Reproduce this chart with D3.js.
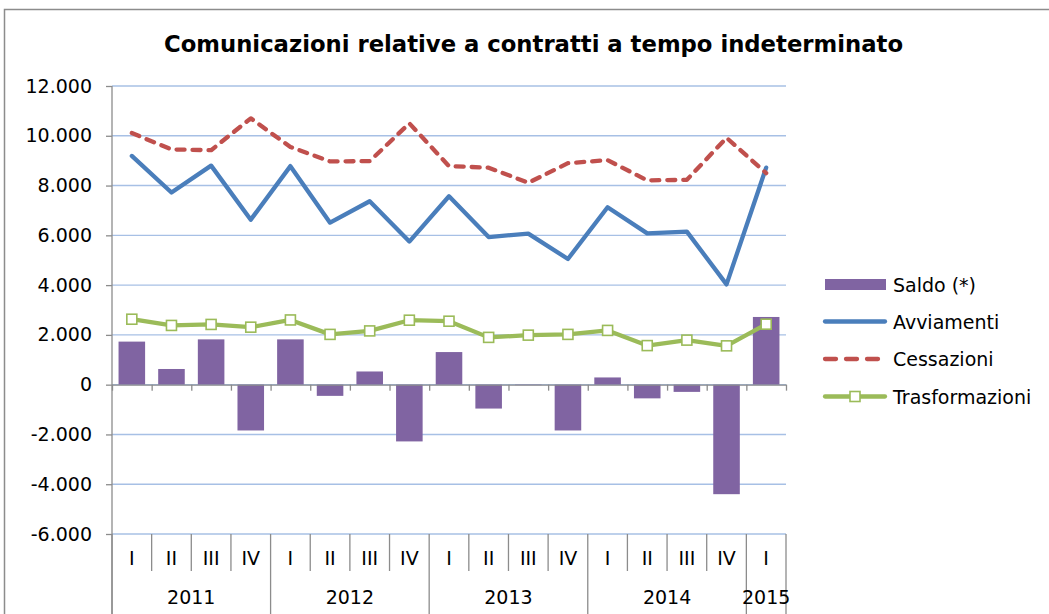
<!DOCTYPE html>
<html>
<head>
<meta charset="utf-8">
<script src="https://cdnjs.cloudflare.com/ajax/libs/d3/7.8.5/d3.min.js"></script>
<style>
    body { margin: 0; background: #fff; }
    svg text { font-family: "DejaVu Sans", Verdana, sans-serif; fill: #000; }
</style>
</head>
<body>
<svg id="chart" width="1049" height="614"></svg>
<script>
// dati
var quarters = ["I", "II", "III", "IV", "I", "II", "III", "IV", "I", "II", "III", "IV", "I", "II", "III", "IV", "I"];
var yearLabels = ["2011", "2012", "2013", "2014", "2015"];
var yearSpans = [4, 4, 4, 4, 1];

var saldo = [1730, 630, 1820, -1840, 1820, -450, 530, -2280, 1310, -960, -20, -1840, 290, -550, -290, -4400, 2720];
var avviamenti = [9190, 7720, 8800, 6630, 8780, 6510, 7370, 5750, 7570, 5930, 6070, 5050, 7130, 6080, 6150, 4030, 8720];
var cessazioni = [10110, 9450, 9420, 10700, 9550, 8970, 8980, 10500, 8780, 8720, 8110, 8900, 9020, 8210, 8230, 9920, 8500];
var trasformazioni = [2630, 2380, 2420, 2310, 2600, 2020, 2160, 2590, 2550, 1900, 1990, 2020, 2180, 1570, 1790, 1560, 2430];

var yTicks = [-6000, -4000, -2000, 0, 2000, 4000, 6000, 8000, 10000, 12000];
var legendLabels = ["Saldo (*)", "Avviamenti", "Cessazioni", "Trasformazioni"];

(function () {
    'use strict';

    var svg = d3.select("#chart");
    var left = 112, right = 786, top = 86, bottom = 534;
    var fontSize = 19;

    var colors = {
        saldo: "#8064a2",
        avv: "#4a7ebb",
        ces: "#c0504d",
        tra: "#9bbb59",
        grid: "#a7c0e5",
        axis: "#8c8c8c"
    };

    var it = d3.formatLocale({ decimal: ",", thousands: ".", grouping: [3], currency: ["€", ""], minus: "-" });
    var fmt = it.format(",d");

    var idx = d3.range(quarters.length);

    var x = d3.scaleBand()
        .domain(idx)
        .range([left, right])
        .paddingInner(0.33)
        .paddingOuter(0.165);

    // confini tra le categorie
    var xb = d3.scaleLinear().domain([0, quarters.length]).range([left, right]);

    var y = d3.scaleLinear()
        .domain([-6000, 12000])
        .range([bottom, top]);

    function cx(i) { return x(i) + x.bandwidth() / 2; }

    // cornice esterna
    svg.append("path")
        .attr("d", "M4.5,700 L4.5,9.5 L1100,9.5")
        .attr("fill", "none")
        .attr("stroke", "#8c8c8c")
        .attr("stroke-width", 1.5);

    // titolo
    svg.append("text")
        .attr("x", 533.5)
        .attr("y", 52)
        .attr("text-anchor", "middle")
        .attr("font-size", 23)
        .attr("font-weight", "bold")
        .attr("textLength", 739)
        .attr("lengthAdjust", "spacingAndGlyphs")
        .text("Comunicazioni relative a contratti a tempo indeterminato");

    // griglia
    svg.append("g")
        .selectAll("line")
        .data(yTicks)
        .enter()
        .append("line")
        .attr("x1", left)
        .attr("x2", right)
        .attr("y1", function (d) { return y(d); })
        .attr("y2", function (d) { return y(d); })
        .attr("stroke", colors.grid)
        .attr("stroke-width", 1.4);

    // asse Y
    var yAxis = svg.append("g")
        .attr("transform", "translate(" + left + ",0)")
        .call(d3.axisLeft(y).tickValues(yTicks).tickFormat(fmt).tickSize(6).tickPadding(14).tickSizeOuter(0));
    yAxis.select(".domain").remove();
    yAxis.selectAll(".tick line").attr("stroke", colors.axis).attr("stroke-width", 1.3);
    yAxis.selectAll(".tick text")
        .attr("font-size", fontSize)
        .attr("font-family", "DejaVu Sans, Verdana, sans-serif")
        .attr("fill", "#000");

    svg.append("line")
        .attr("x1", left).attr("x2", left)
        .attr("y1", top).attr("y2", 614)
        .attr("stroke", colors.axis)
        .attr("stroke-width", 1.3);

    // barre saldo
    svg.append("g")
        .selectAll("rect")
        .data(saldo)
        .enter()
        .append("rect")
        .attr("x", function (d, i) { return x(i); })
        .attr("width", x.bandwidth())
        .attr("y", function (d) { return y(Math.max(0, d)); })
        .attr("height", function (d) { return Math.abs(y(d) - y(0)); })
        .attr("fill", colors.saldo);

    // asse dello zero con tacche
    var zeroAxis = svg.append("g")
        .attr("transform", "translate(0," + y(0) + ")")
        .call(d3.axisBottom(xb).tickValues(d3.range(quarters.length + 1)).tickFormat("").tickSize(6).tickSizeOuter(0));
    zeroAxis.select(".domain").attr("stroke", colors.axis).attr("stroke-width", 1.3);
    zeroAxis.selectAll(".tick line").attr("stroke", colors.axis).attr("stroke-width", 1.3);

    // separatori delle categorie in basso
    var yearBounds = [0];
    yearSpans.forEach(function (s, i) { yearBounds.push(yearBounds[i] + s); });

    svg.append("g")
        .selectAll("line")
        .data(d3.range(quarters.length + 1))
        .enter()
        .append("line")
        .attr("x1", function (d) { return xb(d); })
        .attr("x2", function (d) { return xb(d); })
        .attr("y1", y(-6000))
        .attr("y2", function (d) { return yearBounds.indexOf(d) >= 0 ? 614 : 571; })
        .attr("stroke", colors.axis)
        .attr("stroke-width", 1.3);

    svg.append("g")
        .selectAll("text")
        .data(quarters)
        .enter()
        .append("text")
        .attr("x", function (d, i) { return cx(i); })
        .attr("y", 565)
        .attr("text-anchor", "middle")
        .attr("font-size", fontSize)
        .text(function (d) { return d; });

    svg.append("g")
        .selectAll("text")
        .data(yearLabels)
        .enter()
        .append("text")
        .attr("x", function (d, i) { return (xb(yearBounds[i]) + xb(yearBounds[i + 1])) / 2; })
        .attr("y", 604)
        .attr("text-anchor", "middle")
        .attr("font-size", fontSize)
        .text(function (d) { return d; });

    // linee
    var line = d3.line()
        .x(function (d, i) { return cx(i); })
        .y(function (d) { return y(d); });

    svg.append("path")
        .datum(avviamenti)
        .attr("d", line)
        .attr("fill", "none")
        .attr("stroke", colors.avv)
        .attr("stroke-width", 4.3)
        .attr("stroke-linejoin", "round")
        .attr("stroke-linecap", "round");

    svg.append("path")
        .datum(cessazioni)
        .attr("d", line)
        .attr("fill", "none")
        .attr("stroke", colors.ces)
        .attr("stroke-width", 4.3)
        .attr("stroke-dasharray", "8,8")
        .attr("stroke-linejoin", "round")
        .attr("stroke-linecap", "round");

    svg.append("path")
        .datum(trasformazioni)
        .attr("d", line)
        .attr("fill", "none")
        .attr("stroke", colors.tra)
        .attr("stroke-width", 4.3)
        .attr("stroke-linejoin", "round");

    svg.append("g")
        .selectAll("rect")
        .data(trasformazioni)
        .enter()
        .append("rect")
        .attr("x", function (d, i) { return cx(i) - 5; })
        .attr("y", function (d) { return y(d) - 5; })
        .attr("width", 10)
        .attr("height", 10)
        .attr("fill", "#fff")
        .attr("stroke", colors.tra)
        .attr("stroke-width", 1.6);

    // legenda
    var lg = svg.append("g");
    var lgY = [284.5, 321.5, 359, 396.5];

    lg.append("rect")
        .attr("x", 825).attr("y", lgY[0] - 5.5)
        .attr("width", 61).attr("height", 11)
        .attr("fill", colors.saldo);

    lg.append("line")
        .attr("x1", 825).attr("x2", 885)
        .attr("y1", lgY[1]).attr("y2", lgY[1])
        .attr("stroke", colors.avv).attr("stroke-width", 4.3).attr("stroke-linecap", "round");

    lg.append("line")
        .attr("x1", 825).attr("x2", 885)
        .attr("y1", lgY[2]).attr("y2", lgY[2])
        .attr("stroke", colors.ces).attr("stroke-width", 4.3)
        .attr("stroke-dasharray", "11,10").attr("stroke-linecap", "round");

    lg.append("line")
        .attr("x1", 825).attr("x2", 885)
        .attr("y1", lgY[3]).attr("y2", lgY[3])
        .attr("stroke", colors.tra).attr("stroke-width", 4.3).attr("stroke-linecap", "round");

    lg.append("rect")
        .attr("x", 850).attr("y", lgY[3] - 5)
        .attr("width", 10).attr("height", 10)
        .attr("fill", "#fff").attr("stroke", colors.tra).attr("stroke-width", 1.6);

    lg.selectAll("text")
        .data(legendLabels)
        .enter()
        .append("text")
        .attr("x", 893)
        .attr("y", function (d, i) { return lgY[i] + 7; })
        .attr("font-size", fontSize)
        .text(function (d) { return d; });
})();
</script>
</body>
</html>
